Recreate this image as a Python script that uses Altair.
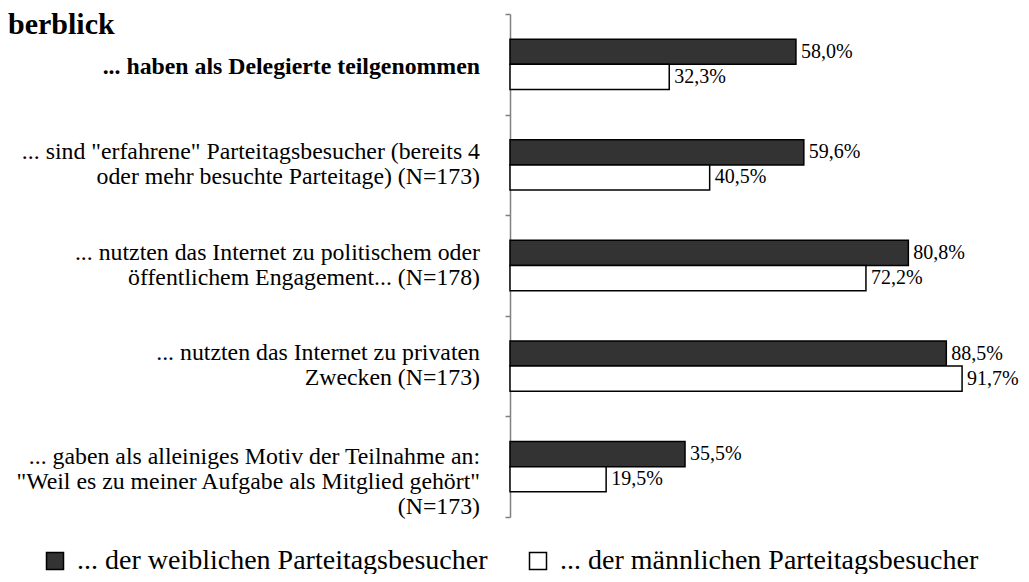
import altair as alt
import pandas as pd

categories = [
    "... haben als Delegierte teilgenommen",
    "... sind \"erfahrene\" Parteitagsbesucher (bereits 4\noder mehr besuchte Parteitage)  (N=173)",
    "... nutzten das Internet zu politischem oder\nöffentlichem Engagement... (N=178)",
    "... nutzten das Internet zu privaten\nZwecken (N=173)",
    "... gaben als alleiniges Motiv der Teilnahme an:\n\"Weil es zu meiner Aufgabe als Mitglied gehört\"\n(N=173)",
]
series = ["... der weiblichen Parteitagsbesucher", "... der männlichen Parteitagsbesucher"]
women = [58.0, 59.6, 80.8, 88.5, 35.5]
men = [32.3, 40.5, 72.2, 91.7, 19.5]
title_text = "berblick"

rows = []
for c, w, m in zip(categories, women, men):
    for s, v in zip(series, [w, m]):
        rows.append({"cat": c, "series": s, "value": v,
                     "label": f"{v:.1f}".replace(".", ",") + "%"})
df = pd.DataFrame(rows)
cat_df = pd.DataFrame({"cat": categories,
                       "bold": [True, False, False, False, False],
                       "nlines": [c.count("\n") + 1 for c in categories]})

FONT = "Liberation Serif"
W, H = 493, 503

y_enc = alt.Y("cat:N", sort=categories,
              scale=alt.Scale(paddingInner=0, paddingOuter=0),
              axis=alt.Axis(title=None, labels=False, tickBand="extent", tickSize=5,
                            domainColor="#808080", tickColor="#808080",
                            domainWidth=1.5, tickWidth=1.5, grid=False))
x_enc = alt.X("value:Q", scale=alt.Scale(domain=[0, 100]), axis=None)
yoff = alt.YOffset("series:N", sort=series,
                   scale=alt.Scale(paddingInner=0, paddingOuter=1))

bars = alt.Chart(df).mark_bar(stroke="black", strokeWidth=1.5).encode(
    x=x_enc, y=y_enc, yOffset=yoff,
    fill=alt.Fill("series:N", sort=series,
                  scale=alt.Scale(domain=series, range=["#333333", "#ffffff"]),
                  legend=alt.Legend(title=None, orient="none", legendX=-469, legendY=533,
                                    direction="horizontal", symbolType="square",
                                    symbolSize=289, symbolStrokeColor="black",
                                    symbolStrokeWidth=1.5, labelFont=FONT,
                                    labelFontSize=28, labelColor="black",
                                    labelOffset=8, columnPadding=36,
                                    labelLimit=700)),
)

values = alt.Chart(df).mark_text(align="left", baseline="middle", dx=5,
                                 font=FONT, fontSize=20, color="black").encode(
    x=x_enc, y=alt.Y("cat:N", sort=categories), yOffset=yoff, text="label:N")


def cat_labels(filter_expr, dy, weight="normal"):
    return alt.Chart(cat_df).transform_filter(filter_expr).mark_text(
        align="right", baseline="middle", lineBreak="\n", font=FONT, fontSize=23.8,
        fontWeight=weight, lineHeight=25, dy=dy, color="black").encode(
        y=alt.Y("cat:N", sort=categories), x=alt.value(-30), text="cat:N")


labels_1 = cat_labels("datum.nlines == 1", 3, "bold")
labels_2 = cat_labels("datum.nlines == 2", -13)
labels_3 = cat_labels("datum.nlines == 3", -10)

title = alt.Chart(pd.DataFrame({"t": [title_text]})).mark_text(
    align="left", baseline="top", font=FONT, fontSize=30,
    fontWeight="bold", color="black").encode(
    x=alt.value(-502), y=alt.value(-4), text="t:N")

chart = alt.layer(bars, values, labels_1, labels_2, labels_3, title).properties(
    width=W, height=H,
    autosize=alt.AutoSizeParams(type="none"),
    padding={"left": 502, "top": 6, "right": 18, "bottom": 57},
).configure_view(stroke=None)

chart.save("out.html", embed_options={"renderer": "svg", "actions": False})
